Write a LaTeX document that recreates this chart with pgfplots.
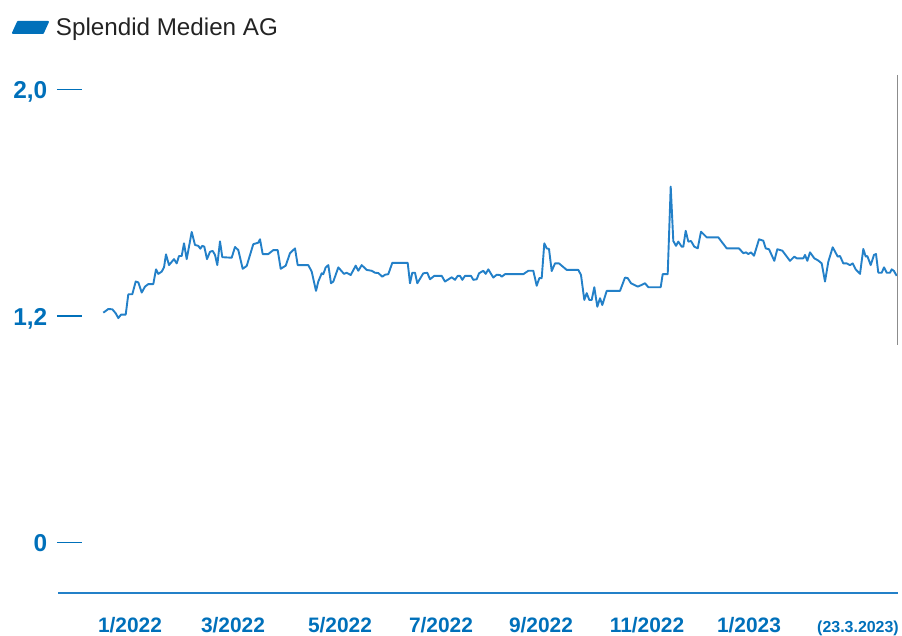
\documentclass[border=0pt]{standalone}
\usepackage{pgfplots}
\pgfplotsset{compat=1.18}
\usepackage{pgfplotstable}
\usepackage{fontspec}
\setmainfont{Liberation Sans}
\definecolor{lblblue}{RGB}{0,112,186}
\definecolor{lineblue}{RGB}{35,128,200}
\definecolor{txtgray}{RGB}{35,35,35}

\pgfplotstableread{
x v
103.3 1.214
108.3 1.227
112.3 1.226
115.7 1.212
118.3 1.195
121.0 1.207
125.7 1.207
128.3 1.279
132.3 1.279
135.7 1.324
138.3 1.321
141.7 1.285
145.0 1.306
148.3 1.315
153.3 1.315
156.0 1.367
158.3 1.351
161.7 1.359
164.0 1.374
166.0 1.420
169.0 1.382
174.0 1.403
176.7 1.388
179.0 1.414
181.7 1.414
184.0 1.459
186.7 1.403
191.7 1.499
195.0 1.453
198.3 1.450
200.3 1.440
202.3 1.450
204.3 1.447
207.0 1.403
210.0 1.429
212.7 1.432
215.0 1.418
217.3 1.382
220.0 1.466
222.3 1.410
231.7 1.408
235.0 1.446
238.3 1.435
242.7 1.369
246.7 1.379
253.3 1.456
258.3 1.461
260.0 1.473
262.7 1.421
268.3 1.421
273.3 1.435
277.7 1.435
280.7 1.369
285.7 1.380
290.0 1.424
295.0 1.441
297.7 1.382
308.3 1.382
311.7 1.359
316.0 1.291
318.3 1.324
321.7 1.353
323.3 1.350
325.7 1.374
328.3 1.382
331.0 1.318
333.3 1.324
338.3 1.374
344.0 1.351
346.7 1.355
350.7 1.347
355.7 1.380
358.3 1.362
361.7 1.382
366.7 1.365
371.7 1.362
375.0 1.355
378.3 1.354
382.3 1.341
385.0 1.348
388.3 1.350
392.3 1.390
407.7 1.390
410.0 1.318
412.3 1.355
415.0 1.355
417.3 1.318
423.3 1.353
427.3 1.355
430.0 1.332
434.3 1.344
441.7 1.344
445.0 1.324
451.7 1.339
455.0 1.330
457.7 1.344
460.0 1.344
462.3 1.330
465.0 1.344
471.0 1.344
473.3 1.330
476.7 1.332
479.0 1.353
483.3 1.362
485.7 1.351
488.3 1.367
493.3 1.338
496.7 1.348
500.0 1.347
501.7 1.341
505.0 1.350
523.3 1.350
528.3 1.362
533.3 1.362
536.7 1.309
539.3 1.336
541.7 1.336
544.3 1.459
546.7 1.441
549.0 1.439
551.7 1.361
555.0 1.388
559.0 1.388
566.7 1.365
578.3 1.365
581.0 1.347
584.3 1.259
586.7 1.283
589.3 1.259
591.7 1.259
594.3 1.304
597.3 1.235
600.0 1.265
602.3 1.241
606.7 1.291
620.0 1.291
625.0 1.338
627.7 1.336
631.0 1.318
637.7 1.306
641.7 1.312
645.0 1.318
648.3 1.304
660.7 1.304
662.7 1.350
667.7 1.350
670.7 1.659
673.3 1.467
676.0 1.450
678.3 1.465
681.7 1.447
683.3 1.447
685.7 1.503
688.3 1.465
691.0 1.467
694.3 1.447
697.7 1.441
701.0 1.500
706.7 1.480
718.3 1.480
726.7 1.441
739.0 1.441
743.3 1.424
746.0 1.427
748.3 1.421
751.0 1.427
754.0 1.415
759.0 1.473
763.3 1.468
765.7 1.441
769.0 1.438
774.3 1.397
777.3 1.438
782.3 1.433
790.0 1.397
794.3 1.412
796.7 1.406
803.3 1.406
805.0 1.418
807.3 1.397
810.0 1.427
814.3 1.406
818.3 1.398
821.7 1.388
825.0 1.324
828.3 1.394
832.7 1.445
837.7 1.412
840.0 1.414
843.3 1.388
846.7 1.388
850.0 1.382
852.7 1.388
855.7 1.367
860.0 1.351
863.3 1.439
865.7 1.412
867.3 1.414
870.7 1.382
874.0 1.418
876.0 1.421
878.3 1.355
881.7 1.355
884.0 1.374
886.7 1.355
890.0 1.355
891.7 1.367
894.0 1.361
896.7 1.344
}\stock

\begin{document}
\begin{tikzpicture}
\begin{axis}[
  scale only axis, width=902bp, height=635bp,
  xmin=0, xmax=902, ymin=-0.4854, ymax=2.8766,
  axis line style={draw=none}, tick style={draw=none},
  clip=false,
  xtick={130,233,340,441,541,647,749,858},
  xticklabels={1/2022,3/2022,5/2022,7/2022,9/2022,11/2022,1/2023,{\fontsize{16}{18}\selectfont(23.3.2023)}},
  xticklabel style={anchor=base, yshift=3bp, inner sep=0pt,
    font=\fontsize{21}{24}\selectfont\bfseries, text=lblblue},
  ytick={0,1.2,2.4},
  yticklabels={
    {0\hspace{9.5bp}\rule[8.4bp]{25bp}{1.5bp}},
    {1,2\hspace{9.5bp}\rule[8.4bp]{25bp}{1.5bp}},
    {2,0\hspace{9.5bp}\rule[8.4bp]{25bp}{1.5bp}}},
  yticklabel style={anchor=base east, xshift=82bp, yshift=-8.5bp, inner sep=0pt,
    font=\fontsize{24.5}{28}\selectfont\bfseries, text=lblblue},
  legend style={draw=none, fill=none, at={(axis cs:12,2.7314)}, anchor=west,
    inner sep=0pt, outer sep=0pt, nodes={inner sep=0pt},
    font=\fontsize{24.3}{27}\selectfont, text=txtgray, column sep=7bp},
  legend image code/.code={\fill[lblblue] (0bp,-5.5bp) -- (30bp,-5.5bp) -- (35bp,5.5bp) -- (5bp,5.5bp) -- cycle;},
]
\addplot[lineblue, line width=1.9bp, line join=round] table[x=x, y expr={1.2+1.5*(\thisrow{v}-1.2)}] {\stock};
\addlegendentry{Splendid Medien AG}
\draw[lineblue, line width=1.5bp] (axis cs:58,-0.2627) -- (axis cs:898,-0.2627);
\draw[black!45, line width=1bp] (axis cs:897.5,2.4796) -- (axis cs:897.5,1.0502);
\end{axis}
\end{tikzpicture}
\end{document}
